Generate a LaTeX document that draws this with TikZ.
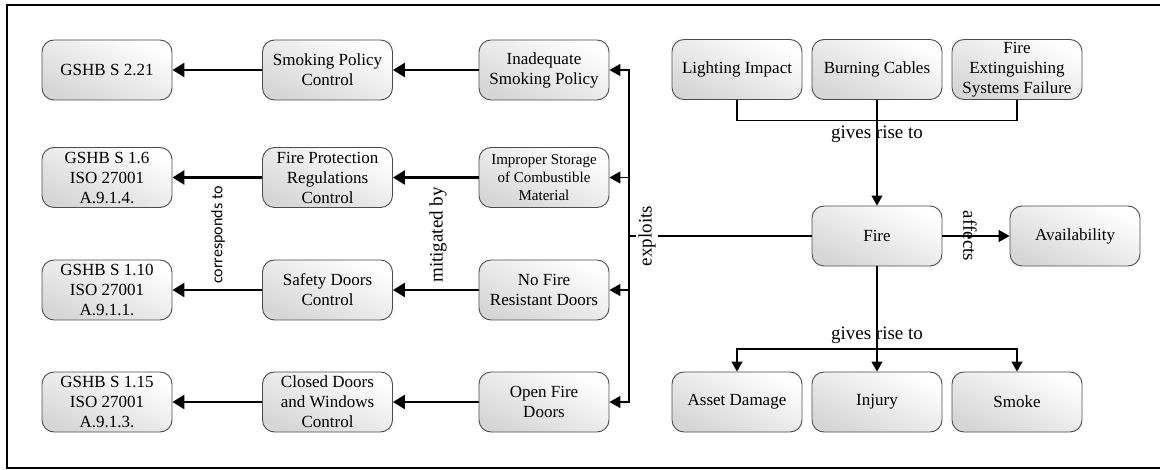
\documentclass[tikz,border=0pt]{standalone}
\usepackage{fontspec}
\setmainfont{Liberation Serif}
\newfontfamily\labelsans{Carlito}
\usetikzlibrary{arrows.meta}
\begin{document}
\begin{tikzpicture}[x=1pt,y=-1pt,
  box/.style={draw=black!70, line width=0.9pt, rounded corners=12pt,
    minimum width=130pt, minimum height=60pt, inner sep=0pt, align=center,
    top color=white, bottom color=black!16, shading angle=-25,
    font=\fontsize{17}{20}\selectfont},
  smalltext/.style={font=\fontsize{15}{18}\selectfont},
  strong link/.style={line width=2.6pt, -{Triangle[length=12pt,width=14pt]}},
  bus link/.style={line width=1.5pt, -{Triangle[length=11pt,width=12pt]}},
  plain link/.style={line width=1.1pt, -{Triangle[length=10pt,width=11pt]}},
  wire/.style={line width=1.1pt},
  rel/.style={font=\fontsize{19}{22}\selectfont, inner sep=1pt},
]
\useasboundingbox (0,0) rectangle (1160,470);

% outer frame
\draw[line width=2.2pt] (1170,5) -- (7,5) -- (7,468) -- (1170,468);

% standards
\node[box] (g1) at (107,70)  {GSHB S 2.21};
\node[box] (g2) at (107,177.5) {GSHB S 1.6\\ISO 27001\\A.9.1.4.};
\node[box] (g3) at (107,290) {GSHB S 1.10\\ISO 27001\\A.9.1.1.};
\node[box] (g4) at (107,402) {GSHB S 1.15\\ISO 27001\\A.9.1.3.};

% controls
\node[box] (c1) at (327.5,70)  {Smoking Policy\\Control};
\node[box] (c2) at (327.5,177.5) {Fire Protection\\Regulations\\Control};
\node[box] (c3) at (327.5,290) {Safety Doors\\Control};
\node[box] (c4) at (327.5,402) {Closed Doors\\and Windows\\Control};

% vulnerabilities
\node[box] (v1) at (544,70)  {Inadequate\\Smoking Policy};
\node[box, smalltext] (v2) at (544,177.5) {Improper Storage\\of Combustible\\Material};
\node[box] (v3) at (544,290) {No Fire\\Resistant Doors};
\node[box] (v4) at (544,402) {Open Fire\\Doors};

% causes
\node[box] (li) at (737,69.5)  {Lighting Impact};
\node[box] (bc) at (877,69.5)  {Burning Cables};
\node[box] (fe) at (1017,69.5) {Fire\\Extinguishing\\Systems Failure};

% threat and impact
\node[box] (fire) at (877,236)  {Fire};
\node[box] (av)   at (1075,236) {Availability};

% consequences
\node[box] (ad)  at (737,402)  {Asset Damage};
\node[box] (inj) at (877,402)  {Injury};
\node[box] (sm)  at (1017,402) {Smoke};

% controls -> standards, vulnerabilities -> controls
\foreach \i in {1,...,4} {
  \draw[strong link] (c\i.west) -- (g\i.east);
  \draw[strong link] (v\i.west) -- (c\i.east);
}
\node[rel, rotate=90, font=\labelsans\fontsize{16}{19}\selectfont] (lcorr) at (218,235) {corresponds to};
\node[rel, rotate=90] (lmit) at (438,235) {mitigated by};

% fire exploits the vulnerabilities
\coordinate (bus) at (629,236);
\draw[line width=1.5pt] (fire.west) -- (bus);
\foreach \i in {1,...,4} \draw[bus link] (bus) |- (v\i.east);
\node[rel, rotate=90, fill=white, inner sep=2pt] (lexp) at (647,236) {exploits};

% causes give rise to fire
\draw[wire] (li.south) -- ++(0,20.5) -| (fe.south);
\draw[plain link] (bc.south) -- (fire.north);
\node[rel] (lgr1) at (877,134) {gives rise to};

% fire affects availability
\draw[line width=1.5pt, -{Triangle[length=11pt,width=12pt]}] (fire.east) -- (av.west);
\node[rel, rotate=-90] (laff) at (970,236) {affects};

% fire gives rise to consequences
\coordinate (split) at (877,349);
\draw[wire] (fire.south) -- (split);
\draw[plain link] (split) -| (ad.north);
\draw[plain link] (split) -| (sm.north);
\draw[plain link] (split) -- (inj.north);
\node[rel] (lgr2) at (877,335) {gives rise to};
\end{tikzpicture}
\end{document}
